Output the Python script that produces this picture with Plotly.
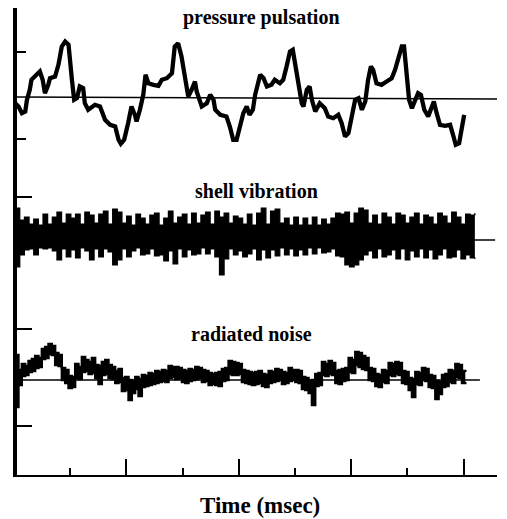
import numpy as np
import plotly.graph_objects as go

# ---------------- data ----------------
# time axis in msec-like units, amplitude in arbitrary units
P_T = [0.02,0.08,0.14,0.20,0.23,0.28,0.31,0.40,0.46,0.51,
       0.55,0.61,0.64,0.73,0.79,0.85,0.91,0.97,1.00,1.03,
       1.07,1.12,1.17,1.23,1.26,1.32,1.44,1.53,1.62,1.71,
       1.80,1.86,1.90,1.96,2.03,2.09,2.15,2.18,2.24,2.30,
       2.34,2.39,2.48,2.57,2.63,2.72,2.81,2.84,2.86,2.92,
       2.98,3.04,3.10,3.16,3.22,3.25,3.31,3.34,3.43,3.49,
       3.55,3.58,3.67,3.78,3.84,3.90,3.96,4.02,4.08,4.14,
       4.19,4.25,4.29,4.35,4.38,4.44,4.50,4.58,4.64,4.73,
       4.79,4.85,4.91,4.96,5.00,5.06,5.12,5.15,5.21,5.26,
       5.30,5.36,5.44,5.53,5.59,5.68,5.77,5.83,5.89,5.95,
       6.01,6.07,6.13,6.19,6.25,6.30,6.35,6.39,6.45,6.54,
       6.63,6.72,6.78,6.84,6.90,6.94,6.99,7.03,7.08,7.14,
       7.19,7.24,7.30,7.37,7.43,7.47,7.52,7.58,7.67,7.76,
       7.82,7.86,7.92,7.97,8.01]
P_V = [-5.7,-9.0,-15.7,-14.0,-2.3,7.7,17.7,22.7,26.0,17.7,
       4.3,12.7,19.3,21.0,32.7,51.0,56.0,52.7,39.3,17.7,
       -2.3,-0.7,11.0,9.3,-5.7,-12.3,-7.3,-9.0,-22.3,-27.3,
       -29.0,-42.3,-46.3,-42.3,-25.7,-9.0,-17.3,-24.0,-12.3,2.7,
       22.7,14.3,12.7,11.7,17.7,19.3,24.3,37.7,51.0,54.3,
       41.0,21.0,1.0,7.7,16.0,6.0,-2.3,-9.0,-5.7,2.7,
       -2.3,-12.3,-17.3,-19.0,-29.0,-42.3,-42.3,-30.7,-15.7,-9.0,
       -17.3,-12.3,2.7,16.0,22.7,19.3,11.0,12.7,17.7,14.3,
       17.7,31.0,46.0,47.7,34.3,17.7,-5.7,-9.0,7.7,11.0,
       -2.3,-14.0,-5.7,-10.7,-19.0,-20.7,-17.3,-25.7,-39.0,-35.7,
       -19.0,-2.3,-0.7,-12.3,-4.0,17.7,31.0,27.7,14.3,12.7,
       16.0,19.3,27.7,39.3,51.0,51.0,24.3,-2.3,-10.7,-2.3,
       4.3,2.7,-12.3,-19.0,-10.7,-4.0,-15.7,-27.3,-28.3,-27.3,
       -39.0,-47.3,-45.7,-32.3,-17.3]

# shell vibration: upper / lower envelope of the dense band
SHELL_UP = [32,20,23,16,21,15,26,16,23,28, 17,26,22,26,16,28,25,17,26,29,
            16,31,28,17,24,15,26,22,16,25, 27,15,22,29,17,23,26,16,27,17,
            25,28,16,29,23,27,17,24,22,16, 26,15,27,32,16,29,31,17,22,15,
            23,15,22,15,23,15,21,16,22,27, 26,28,17,27,32,30,17,25,16,27,
            23,16,27,25,17,23,27,16,25,23, 16,27,24,17,28,23,16,26,25,27]
SHELL_DOWN = [-27,-15,-10,-9,-15,-8,-9,-8,-11,-20, -9,-17,-10,-18,-8,-11,-20,-9,-17,-9,
              -12,-25,-20,-9,-17,-11,-8,-15,-14,-9, -16,-15,-21,-11,-24,-9,-17,-10,-15,-14,
              -8,-14,-9,-17,-35,-19,-9,-15,-11,-17, -14,-9,-20,-10,-18,-10,-16,-8,-15,-9,
              -16,-10,-15,-8,-14,-8,-13,-12,-9,-16, -17,-25,-27,-25,-20,-15,-11,-18,-9,-17,
              -15,-10,-19,-9,-20,-11,-17,-9,-18,-10, -19,-15,-9,-18,-17,-10,-19,-15,-18,-19]

# radiated noise: upper / lower envelope of the band
RAD_UP = [25,10, 16,14, 19,21, 24,22, 31,33, 36,34, 27,25, 12,10, 4,3, 16,13,
          23,20, 18,22, 15,14, 18,20, 15,13, 9,11, 2,3, 0,-1, 3,1, 5,4,
          7,6, 9,8, 10,9, 14,13, 13,12, 10,9, 11,10, 13,12, 10,9, 7,6,
          7,8, 11,12, 19,18, 17,16, 10,9, 8,7, 8,9, 6,5, 9,8, 11,10,
          8,7, 12,10, 10,9, 3,2, -1,0, 6,7, 18,16, 19,17, 9,10, 11,12,
          22,20, 28,27, 24,22, 12,11, 6,5, 10,9, 17,16, 18,17, 9,8, 2,1,
          8,7, 12,11, 5,4, -1,-2, 5,6, 10,9, 16,15, 9,8]
RAD_DOWN = [-27,-5, 4,5, 8,9, 12,13, 21,22, 26,25, 15,14, 0,-3, -8,-7, 2,1,
            8,9, 6,7, 2,-4, 5,6, 2,1, -3,-2, -11,-10, -20,-13, -9,-16, -7,-6,
            -5,-4, -3,-2, -1,-2, 2,3, 1,2, -2,-3, -1,0, 1,2, -2,-1, -5,-4,
            -5,-6, -1,0, 6,5, 5,6, -2,-3, -4,-5, -4,-3, -6,-7, -3,-2, -1,0,
            -4,-3, -1,0, -2,-3, -9,-10, -13,-25, -6,-5, 5,4, 6,5, -3,-4, -1,0,
            8,7, 15,13, 11,10, 0,-1, -6,-7, -2,-3, 5,4, 6,5, -3,-4, -10,-17,
            -4,-5, 0,-1, -7,-8, -19,-14, -7,-6, -2,-3, 3,2, -3,-2]

LABELS = ["pressure pulsation", "shell vibration", "radiated noise"]
X_TITLE = "Time (msec)"
X_MAJOR = [2, 4, 6, 8]
X_MINOR = [1, 3, 5, 7]
Y_MAJOR = [278, 146, 49]
Y_MINOR = [467, 423, 336]

# ---------------- layout constants ----------------
OFF_P, OFF_S, OFF_R = 377.5, 235.0, 95.0
T_SHELL = (0.02, 8.2)
T_RAD = (0.02, 8.03)

shell_t = np.linspace(T_SHELL[0], T_SHELL[1], len(SHELL_UP))
rad_t = np.linspace(T_RAD[0], T_RAD[1], len(RAD_UP))

fig = go.Figure()
fig.add_trace(go.Scatter(x=P_T, y=np.array(P_V) + OFF_P, mode="lines",
                         line=dict(color="black", width=4.3), hoverinfo="skip"))


def band(t, up, down, off, w):
    fig.add_trace(go.Scatter(x=t, y=np.array(down, float) + off, mode="lines",
                             line=dict(color="black", width=w, shape="hv"), hoverinfo="skip"))
    fig.add_trace(go.Scatter(x=t, y=np.array(up, float) + off, mode="lines",
                             line=dict(color="black", width=w, shape="hv"),
                             fill="tonexty", fillcolor="black", hoverinfo="skip"))


band(shell_t, SHELL_UP, SHELL_DOWN, OFF_S, 1.2)
band(rad_t, RAD_UP, RAD_DOWN, OFF_R, 2.4)

# baselines
for y0, y1, x1 in [(OFF_P + 0.5, OFF_P - 1.5, 8.6), (OFF_S, OFF_S, 8.56), (OFF_R, OFF_R, 8.29)]:
    fig.add_shape(type="line", x0=0, x1=x1, y0=y0, y1=y1, xref="x", yref="y",
                  line=dict(color="black", width=1.5))

font_lbl = dict(family="Liberation Serif", size=20, color="black")
for txt, xx, yy in [(LABELS[0], 4.41, 458), (LABELS[1], 4.31, 284), (LABELS[2], 4.23, 141)]:
    fig.add_annotation(x=xx, y=yy, xref="x", yref="y", text="<b>%s</b>" % txt,
                       showarrow=False, font=font_lbl, xanchor="center", yanchor="middle")
fig.add_annotation(x=0.507, y=-0.066, xref="paper", yref="paper", text="<b>%s</b>" % X_TITLE,
                   showarrow=False, font=dict(family="Liberation Serif", size=23, color="black"),
                   xanchor="center", yanchor="middle")

fig.update_layout(
    width=507, height=519,
    margin=dict(l=17, r=10, t=8, b=44),
    paper_bgcolor="white", plot_bgcolor="white",
    showlegend=False,
    xaxis=dict(range=[0.053, 8.594], showgrid=False, zeroline=False, showline=True,
               linecolor="black", linewidth=2, ticks="inside", tickvals=X_MAJOR,
               ticklen=16, tickwidth=2, tickcolor="black", showticklabels=False,
               minor=dict(tickvals=X_MINOR, ticks="inside", ticklen=7, tickwidth=2,
                          tickcolor="black")),
    yaxis=dict(range=[0, 467], showgrid=False, zeroline=False, showline=True,
               linecolor="black", linewidth=4, ticks="inside", tickvals=Y_MAJOR,
               ticklen=15, tickwidth=2, tickcolor="black", showticklabels=False,
               minor=dict(tickvals=Y_MINOR, ticks="inside", ticklen=9, tickwidth=2,
                          tickcolor="black")),
)
fig.write_html("out.html", config={"displayModeBar": False},
               post_script="document.body.style.margin='0px';")
